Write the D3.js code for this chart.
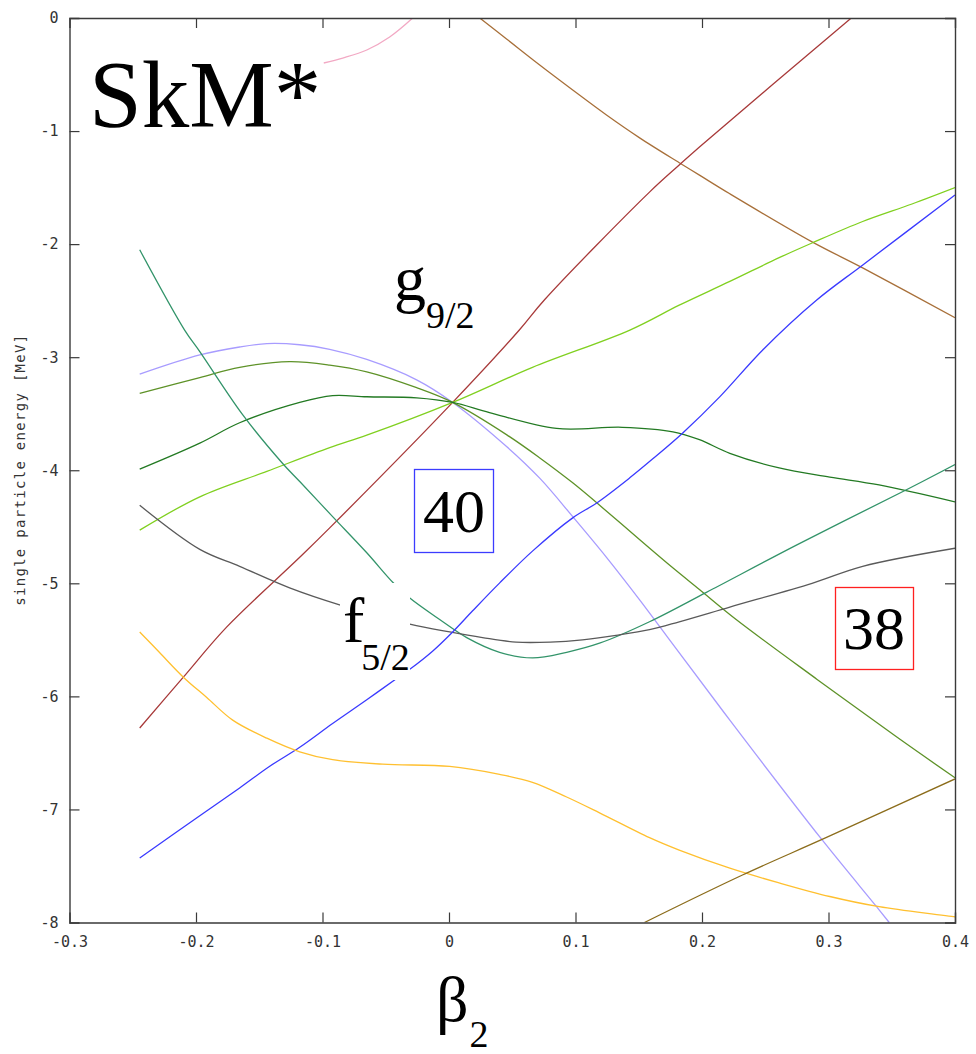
<!DOCTYPE html>
<html><head><meta charset="utf-8">
<script src="https://cdn.jsdelivr.net/npm/d3@7"></script>
<style>html,body{margin:0;padding:0;background:#fff;}svg{display:block;}</style>
</head><body>
<script>
// ---- data (beta2, single particle energy in MeV) ----
const xTicks = [-0.3, -0.2, -0.1, 0, 0.1, 0.2, 0.3, 0.4];
const xTickLabels = ["-0.3", "-0.2", "-0.1", "0", "0.1", "0.2", "0.3", "0.4"];
const yTicks = [-8, -7, -6, -5, -4, -3, -2, -1, 0];
const yTickLabels = ["-8", "-7", "-6", "-5", "-4", "-3", "-2", "-1", "0"];

const pinkLevel = [[-0.099,-0.398],[-0.084,-0.354],[-0.065,-0.283],[-0.0469,-0.168],[-0.0287,0]];
const sienna = [[0.0243,0],[0.0455,-0.186],[0.0717,-0.416],[0.0978,-0.637],[0.1245,-0.858],[0.1507,-1.06],[0.182,-1.28],[0.198,-1.39],[0.222,-1.555],[0.287,-1.98],[0.327,-2.21],[0.4,-2.65]];
const redLevel = [[-0.2445,-6.28],[-0.210,-5.83],[-0.176,-5.39],[-0.118,-4.77],[-0.0943,-4.51],[0.0029,-3.40],[0.0556,-2.76],[0.0757,-2.49],[0.1585,-1.54],[0.182,-1.30],[0.198,-1.14],[0.318,0]];
const limeLevel = [[-0.2445,-4.53],[-0.197,-4.235],[-0.144,-4.01],[-0.0943,-3.80],[-0.065,-3.69],[0.0029,-3.40],[0.066,-3.09],[0.143,-2.76],[0.182,-2.54],[0.222,-2.33],[0.261,-2.12],[0.287,-1.99],[0.327,-1.80],[0.366,-1.645],[0.4,-1.50]];
const lavenderLevel = [[-0.2445,-3.15],[-0.197,-2.98],[-0.1655,-2.91],[-0.144,-2.88],[-0.118,-2.89],[-0.0943,-2.93],[-0.065,-3.02],[-0.0256,-3.20],[0.0029,-3.40],[0.0455,-3.79],[0.0717,-4.07],[0.0978,-4.41],[0.1245,-4.77],[0.1507,-5.146],[0.172,-5.464],[0.222,-6.21],[0.295,-7.27],[0.338,-7.86],[0.348,-8.0]];
const oliveLevel = [[-0.2445,-3.32],[-0.197,-3.18],[-0.1655,-3.09],[-0.126,-3.04],[-0.0943,-3.07],[-0.065,-3.13],[-0.0256,-3.27],[0.0029,-3.40],[0.0457,-3.687],[0.0718,-3.891],[0.0978,-4.111],[0.1168,-4.288],[0.1508,-4.615],[0.1769,-4.863],[0.1982,-5.057],[0.227,-5.32],[0.291,-5.85],[0.354,-6.36],[0.4,-6.72]];
const darkGreenLevel = [[-0.2445,-3.99],[-0.197,-3.76],[-0.1655,-3.58],[-0.118,-3.40],[-0.092,-3.34],[-0.065,-3.35],[-0.0256,-3.36],[0.0029,-3.40],[0.032,-3.49],[0.085,-3.63],[0.137,-3.62],[0.177,-3.66],[0.198,-3.73],[0.222,-3.85],[0.261,-3.98],[0.301,-4.06],[0.340,-4.13],[0.4,-4.28]];
const tealLevel = [[-0.2445,-2.05],[-0.209,-2.76],[-0.197,-2.95],[-0.163,-3.51],[-0.1315,-3.94],[-0.118,-4.10],[-0.092,-4.41],[-0.065,-4.73],[-0.0437,-5.00],[-0.031,-5.13],[-0.0074,-5.32],[0.014,-5.48],[0.040,-5.61],[0.066,-5.66],[0.093,-5.61],[0.119,-5.53],[0.1585,-5.34],[0.2035,-5.08],[0.275,-4.66],[0.362,-4.17],[0.4,-3.95]];
const greyLevel = [[-0.2445,-4.31],[-0.197,-4.70],[-0.1655,-4.85],[-0.126,-5.04],[-0.0865,-5.19],[-0.031,-5.36],[0.0006,-5.43],[0.0265,-5.48],[0.053,-5.52],[0.080,-5.52],[0.1055,-5.50],[0.132,-5.46],[0.1585,-5.41],[0.182,-5.34],[0.222,-5.21],[0.287,-5.00],[0.327,-4.85],[0.4,-4.69]];
const blueLevel = [[-0.2445,-7.43],[-0.197,-7.056],[-0.1655,-6.81],[-0.142,-6.62],[-0.118,-6.45],[-0.092,-6.24],[-0.065,-6.03],[-0.040,-5.83],[-0.031,-5.76],[-0.013,-5.60],[0.0029,-5.43],[0.0187,-5.243],[0.0401,-4.996],[0.0662,-4.713],[0.0978,-4.421],[0.1168,-4.289],[0.1429,-4.067],[0.1611,-3.899],[0.1848,-3.670],[0.214,-3.351],[0.248,-2.936],[0.2907,-2.494],[0.3271,-2.184],[0.4,-1.565]];
const orangeLevel = [[-0.2445,-5.43],[-0.229,-5.61],[-0.210,-5.83],[-0.1915,-6.01],[-0.171,-6.21],[-0.144,-6.37],[-0.118,-6.49],[-0.092,-6.56],[-0.0525,-6.60],[0.0006,-6.62],[0.040,-6.69],[0.066,-6.76],[0.093,-6.89],[0.119,-7.03],[0.1585,-7.25],[0.182,-7.36],[0.222,-7.52],[0.261,-7.65],[0.301,-7.77],[0.340,-7.86],[0.4,-7.95]];
const goldBrownLevel = [[0.1545,-8.0],[0.232,-7.58],[0.298,-7.25],[0.4,-6.73]];

const levels = [pinkLevel, sienna, redLevel, limeLevel, lavenderLevel, oliveLevel, darkGreenLevel, tealLevel, greyLevel, blueLevel, orangeLevel, goldBrownLevel];
const levelColors = ["#f2a9c4", "#a8703a", "#a83a3a", "#80d020", "#a89cff", "#5e9228", "#237a23", "#33946a", "#5a5a5a", "#3a3aff", "#ffc030", "#8c6d1c"];

const titleText = "SkM*";
const magicNumbers = ["40", "38"];

// ---- layout ----
const W = 976, H = 1054;
const svg = d3.select("body").append("svg").attr("width", W).attr("height", H);

const x = d3.scaleLinear().domain([-0.3, 0.4]).range([69.5, 955]);
const y = d3.scaleLinear().domain([-8, 0]).range([922.5, 18]);

svg.append("defs").append("clipPath").attr("id", "plotclip")
  .append("rect").attr("x", x(-0.3)).attr("y", y(0)).attr("width", x(0.4) - x(-0.3)).attr("height", y(-8) - y(0));

const line = d3.line().x(d => x(d[0])).y(d => y(d[1])).curve(d3.curveCatmullRom.alpha(0.5));

const g = svg.append("g").attr("clip-path", "url(#plotclip)");
levels.forEach((lv, i) => {
  g.append("path").attr("d", line(lv)).attr("fill", "none")
    .attr("stroke", levelColors[i]).attr("stroke-width", 1.3);
});

// white patch behind f5/2 label
svg.append("rect").attr("x", 340).attr("y", 583).attr("width", 70).attr("height", 97).attr("fill", "#fff");

// ---- axes (gnuplot style frame, inward ticks on all sides) ----
const frameColor = "#3a3a3a";
const axB = svg.append("g").attr("transform", `translate(0,${y(-8)})`)
  .call(d3.axisBottom(x).tickValues(xTicks).tickSize(-10).tickPadding(14).tickFormat((d, i) => xTickLabels[i]));
const axT = svg.append("g").attr("transform", `translate(0,${y(0)})`)
  .call(d3.axisTop(x).tickValues(xTicks).tickSize(-10).tickFormat(""));
const axL = svg.append("g").attr("transform", `translate(${x(-0.3)},0)`)
  .call(d3.axisLeft(y).tickValues(yTicks).tickSize(-10).tickPadding(11).tickFormat((d, i) => yTickLabels[i]));
const axR = svg.append("g").attr("transform", `translate(${x(0.4)},0)`)
  .call(d3.axisRight(y).tickValues(yTicks).tickSize(-10).tickFormat(""));
[axB, axT, axL, axR].forEach(a => {
  a.select(".domain").attr("stroke", frameColor).attr("stroke-width", 1.4);
  a.selectAll(".tick line").attr("stroke", frameColor).attr("stroke-width", 1.2);
  a.selectAll(".tick text").attr("font-family", "DejaVu Sans Mono, monospace")
    .attr("font-size", 15).attr("fill", "#333");
});
axT.selectAll(".tick").filter(d => d === -0.3 || d === 0.4).select("line").remove();
axB.selectAll(".tick").filter(d => d === -0.3 || d === 0.4).select("line").remove();
axL.selectAll(".tick").filter(d => d === -8 || d === 0).select("line").remove();
axR.selectAll(".tick").filter(d => d === -8 || d === 0).select("line").remove();

// y label
svg.append("text").attr("transform", `translate(25,${(y(0) + y(-8)) / 2}) rotate(-90)`)
  .attr("text-anchor", "middle").attr("font-family", "DejaVu Sans Mono, monospace")
  .attr("font-size", 14).attr("fill", "#333")
  .attr("textLength", 271).attr("lengthAdjust", "spacing")
  .text("single particle energy [MeV]");

// ---- annotations ----
const serif = "Liberation Serif, Times New Roman, serif";
svg.append("text").attr("x", 89).attr("y", 127).attr("font-family", serif)
  .attr("font-size", 95).attr("fill", "#000").text(titleText);

const gl = svg.append("text").attr("x", 394).attr("y", 300).attr("font-family", serif).attr("font-size", 64).attr("fill", "#000");
gl.append("tspan").text("g");
gl.append("tspan").attr("font-size", 38).attr("dy", 28).attr("dx", 0).text("9/2");

const fl = svg.append("text").attr("x", 343).attr("y", 642).attr("font-family", serif).attr("font-size", 64).attr("fill", "#000");
fl.append("tspan").text("f");
fl.append("tspan").attr("font-size", 38).attr("dy", 28).attr("dx", -3).text("5/2");

const bl = svg.append("text").attr("x", 436).attr("y", 1021).attr("font-family", serif).attr("font-size", 64).attr("fill", "#000");
bl.append("tspan").text("β");
bl.append("tspan").attr("font-size", 38).attr("dy", 26).attr("dx", 1).text("2");

// magic number boxes
svg.append("rect").attr("x", 414.5).attr("y", 469.5).attr("width", 79).attr("height", 83)
  .attr("fill", "none").attr("stroke", "#3c3cff").attr("stroke-width", 1.3);
svg.append("text").attr("x", 454).attr("y", 532).attr("text-anchor", "middle")
  .attr("font-family", serif).attr("font-size", 62).attr("fill", "#000").text(magicNumbers[0]);
svg.append("rect").attr("x", 835.5).attr("y", 587.5).attr("width", 78).attr("height", 82)
  .attr("fill", "none").attr("stroke", "#ff2020").attr("stroke-width", 1.3);
svg.append("text").attr("x", 874).attr("y", 649).attr("text-anchor", "middle")
  .attr("font-family", serif).attr("font-size", 62).attr("fill", "#000").text(magicNumbers[1]);
</script>
</body></html>
